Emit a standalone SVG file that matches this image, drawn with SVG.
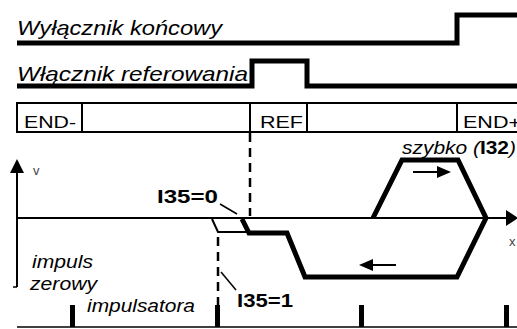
<svg xmlns="http://www.w3.org/2000/svg" width="517" height="329" viewBox="0 0 517 329">
<style>
text{font-family:"Liberation Sans",Arial,sans-serif;fill:#000}
.t{font-size:21px;font-style:italic}
.b{font-size:17px}
.i{font-size:18px;font-style:italic}
.bd{font-size:18px;font-weight:bold}
.thick{fill:none;stroke:#000;stroke-width:5;stroke-linejoin:miter}
.thin{fill:none;stroke:#000;stroke-width:2}
.dash{fill:none;stroke:#000;stroke-width:2.5;stroke-dasharray:9 6}
</style>
<g id="limit-switch">
<text class="t" x="17" y="35" textLength="205" lengthAdjust="spacingAndGlyphs">Wyłącznik końcowy</text>
<polyline class="thick" points="17,43 457,43 457,15 517,15"/>
</g>
<g id="ref-switch">
<text class="t" x="17" y="81" textLength="231" lengthAdjust="spacingAndGlyphs">Włącznik referowania</text>
<polyline class="thick" points="17,86 252,86 252,61 307,61 307,86 517,86"/>
</g>
<g id="track">
<polyline class="thin" points="517,103 17,103 17,132 517,132"/>
<line class="thin" x1="82" y1="103" x2="82" y2="132"/>
<line class="thin" x1="250" y1="103" x2="250" y2="132"/>
<line class="thin" x1="307" y1="103" x2="307" y2="132"/>
<line class="thin" x1="457" y1="103" x2="457" y2="132"/>
<text class="b" x="24" y="128" textLength="52" lengthAdjust="spacingAndGlyphs">END-</text>
<text class="b" x="260" y="128" textLength="43" lengthAdjust="spacingAndGlyphs">REF</text>
<text class="b" x="463" y="128" textLength="58" lengthAdjust="spacingAndGlyphs">END+</text>
</g>
<g id="axes">
<line class="thin" x1="17" y1="168" x2="17" y2="287"/>
<line x1="13" y1="287" x2="17" y2="287" stroke="#000" stroke-width="1.5"/>
<polygon points="17,159 10,173 24,173"/>
<text x="33" y="175" style="font-size:13px;fill:#444">v</text>
<line class="thin" x1="17" y1="218" x2="508" y2="218"/>
<polygon points="518,218 506,210 506,226"/>
<text x="509" y="246" style="font-size:13px;fill:#444">x</text>
<line x1="17" y1="327" x2="517" y2="327" stroke="#000" stroke-width="1.5"/>
</g>
<g id="connectors">
<line class="dash" x1="250" y1="133" x2="250" y2="216"/>
<line class="dash" x1="218" y1="237" x2="218" y2="305"/>
<polyline class="thin" points="212,219 218,232 249,232"/>
<polyline class="thick" points="242,219 249,233 287,233 305,277 457,277 486,218 458,160 402,160 373,218"/>
<line x1="413" y1="172" x2="440" y2="172" stroke="#000" stroke-width="2"/>
<polygon points="451,172 437,166 437,178"/>
<line x1="370" y1="265" x2="396" y2="265" stroke="#000" stroke-width="2"/>
<polygon points="359,265 373,259 373,271"/>
<line x1="220" y1="204" x2="237" y2="214" stroke="#000" stroke-width="1.5"/>
<line x1="221" y1="272" x2="236" y2="290" stroke="#000" stroke-width="1.5"/>
</g>
<g id="labels">
<text class="bd" x="157" y="203" textLength="61" lengthAdjust="spacingAndGlyphs">I35=0</text>
<text class="bd" x="237" y="307" textLength="56" lengthAdjust="spacingAndGlyphs">I35=1</text>
<text x="402" y="154" textLength="114" lengthAdjust="spacingAndGlyphs" style="font-size:18px;font-style:italic">szybko (<tspan font-weight="bold" font-style="normal">I32</tspan>)</text>
<text class="i" x="32" y="268" textLength="61" lengthAdjust="spacingAndGlyphs">impuls</text>
<text class="i" x="30" y="290" textLength="67" lengthAdjust="spacingAndGlyphs">zerowy</text>
<text class="i" x="87" y="312" textLength="108" lengthAdjust="spacingAndGlyphs">impulsatora</text>
</g>
<g id="encoder-pulses">
<rect x="70" y="305" width="5" height="22"/>
<rect x="215" y="305" width="5" height="22"/>
<rect x="359" y="305" width="5" height="22"/>
<rect x="504" y="305" width="5" height="22"/>
</g>
</svg>
